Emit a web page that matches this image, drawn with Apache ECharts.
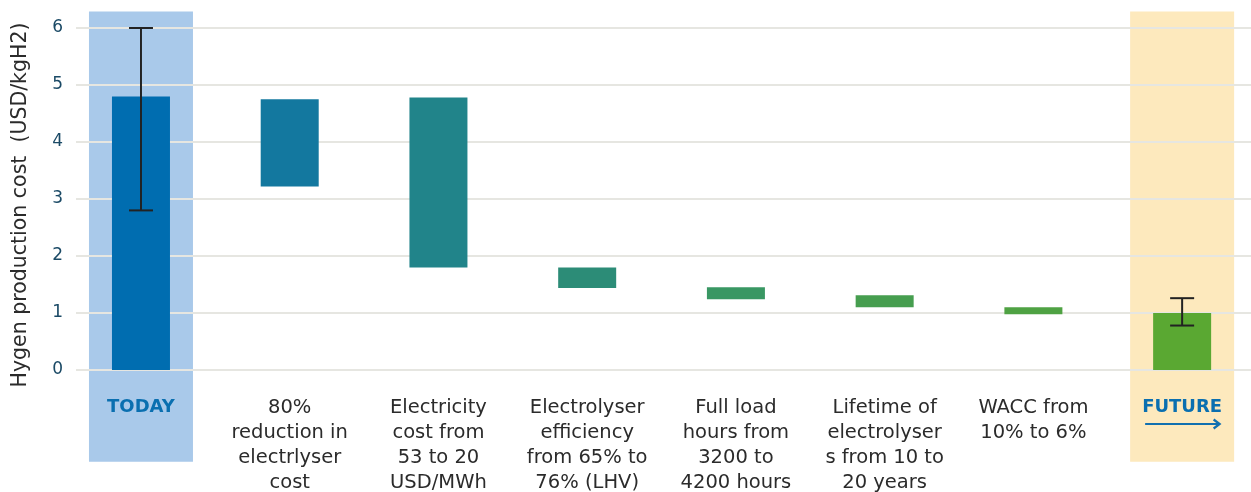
<!DOCTYPE html>
<html>
<head>
<meta charset="utf-8">
<script src="https://cdn.jsdelivr.net/npm/echarts@6/dist/echarts.min.js"></script>
<style>
  html, body { margin: 0; padding: 0; background: #fff; }
  #main { width: 1251px; height: 492px; }
</style>
</head>
<body>
<div id="main"></div>
<script>
// categories (x axis)
var categories = ['TODAY', '80%\nreduction in\nelectrlyser\ncost', 'Electricity\ncost from\n53 to 20\nUSD/MWh',
  'Electrolyser\nefficiency\nfrom 65% to\n76% (LHV)', 'Full load\nhours from\n3200 to\n4200 hours',
  'Lifetime of\nelectrolyser\ns from 10 to\n20 years', 'WACC from\n10% to 6%', 'FUTURE'];
// bottom and top of each floating bar (USD/kgH2)
var barLow  = [0,    3.22, 1.80, 1.44, 1.24, 1.10, 0.98, 0];
var barHigh = [4.80, 4.75, 4.78, 1.80, 1.45, 1.31, 1.10, 1.00];
var barColors = ['#006db0', '#13789f', '#21848a', '#2c8c77', '#399763', '#469e4f', '#4fa243', '#5aa832'];
// error ranges [category index, low, high]
var errorBars = [[0, 2.8, 6.0], [7, 0.78, 1.26]];
// highlighted background columns
var bandTop = 6.29, bandBottom = -1.61;
var bandColors = ['#a9c9ea', null, null, null, null, null, null, '#fde9bd'];
var yTicks = [0, 1, 2, 3, 4, 5, 6];

var chart = echarts.init(document.getElementById('main'));

var baseData = barLow.map(function (v) { return v; });
var deltaData = barHigh.map(function (v, i) {
  return { value: +(v - barLow[i]).toFixed(2), itemStyle: { color: barColors[i] } };
});
var bandUp = bandColors.map(function (c) { return c ? { value: bandTop, itemStyle: { color: c } } : '-'; });
var bandDown = bandColors.map(function (c) { return c ? { value: bandBottom, itemStyle: { color: c } } : '-'; });

var font = '"DejaVu Sans", sans-serif';

chart.setOption({
  animation: false,
  grid: [
    { left: 66.6, right: -5.5, top: 28, bottom: 122, outerBoundsMode: 'none', containLabel: false },   // bars
    { left: 76, right: 0, top: 28, bottom: 122, outerBoundsMode: 'none', containLabel: false }         // gridlines + y labels
  ],
  xAxis: [
    {
      type: 'category', gridIndex: 0, data: categories,
      axisLine: { show: false }, axisTick: { show: false }, splitLine: { show: false },
      axisLabel: {
        interval: 0, margin: 25, fontSize: 19.5, lineHeight: 25, color: '#2b2b2b', fontFamily: font,
        formatter: function (v) {
          if (v === 'TODAY' || v === 'FUTURE') return '{b|' + v + '}';
          return v;
        },
        rich: {
          b: { fontSize: 18, fontWeight: 'bold', color: '#0a6fb0', fontFamily: font, lineHeight: 25 }
        }
      }
    },
    { type: 'category', gridIndex: 0, data: categories, show: false },
    { type: 'value', gridIndex: 1, min: 0, max: 1, show: false }
  ],
  yAxis: [
    { type: 'value', gridIndex: 0, min: 0, max: 6, show: false },
    {
      type: 'value', gridIndex: 1, min: 0, max: 6, interval: 1, z: 1,
      name: 'Hygen production cost  (USD/kgH2)', nameLocation: 'middle', nameGap: 45,
      nameTextStyle: { fontSize: 20.5, color: '#2b2b2b', fontFamily: font, padding: [0, 12, 0, 0] },
      axisLine: { show: false }, axisTick: { show: false },
      axisLabel: { fontSize: 17, color: '#1b4a66', margin: 13, fontFamily: font,
        formatter: function (v) { return yTicks.indexOf(v) >= 0 ? String(v) : ''; } },
      splitLine: { lineStyle: { color: '#e6e6e1', width: 2 } }
    }
  ],
  series: [
    { type: 'bar', xAxisIndex: 1, yAxisIndex: 0, stack: 'band', barWidth: 104, z: 0, clip: false, silent: true, data: bandUp },
    { type: 'bar', xAxisIndex: 1, yAxisIndex: 0, stack: 'band', barWidth: 104, z: 0, clip: false, silent: true, data: bandDown },
    { type: 'bar', xAxisIndex: 0, yAxisIndex: 0, stack: 'wf', barWidth: 58, z: 3,
      itemStyle: { color: 'transparent' }, data: baseData },
    { type: 'bar', xAxisIndex: 0, yAxisIndex: 0, stack: 'wf', barWidth: 58, z: 3, data: deltaData },
    {
      type: 'custom', xAxisIndex: 0, yAxisIndex: 0, z: 5, data: errorBars,
      renderItem: function (params, api) {
        var x = api.value(0);
        var lo = api.coord([x, api.value(1)]);
        var hi = api.coord([x, api.value(2)]);
        var cap = 12;
        var st = { stroke: '#222', lineWidth: 2 };
        return {
          type: 'group',
          children: [
            { type: 'line', shape: { x1: lo[0], y1: lo[1], x2: hi[0], y2: hi[1] }, style: st },
            { type: 'line', shape: { x1: lo[0] - cap, y1: lo[1], x2: lo[0] + cap, y2: lo[1] }, style: st },
            { type: 'line', shape: { x1: hi[0] - cap, y1: hi[1], x2: hi[0] + cap, y2: hi[1] }, style: st }
          ]
        };
      }
    },
    {
      // arrow under the FUTURE label
      type: 'custom', xAxisIndex: 0, yAxisIndex: 0, z: 5, clip: false, silent: true,
      data: [[categories.length - 1, 0]],
      renderItem: function (params, api) {
        var p = api.coord([api.value(0), api.value(1)]);
        var y = p[1] + 54;
        var st = { stroke: '#1170b0', lineWidth: 2.2, fill: null };
        return {
          type: 'group',
          children: [
            { type: 'line', shape: { x1: p[0] - 37, y1: y, x2: p[0] + 37, y2: y }, style: st },
            { type: 'polyline', shape: { points: [[p[0] + 31.5, y - 4.5], [p[0] + 37.5, y], [p[0] + 31.5, y + 4.5]] }, style: st }
          ]
        };
      }
    }
  ]
});
</script>
</body>
</html>
